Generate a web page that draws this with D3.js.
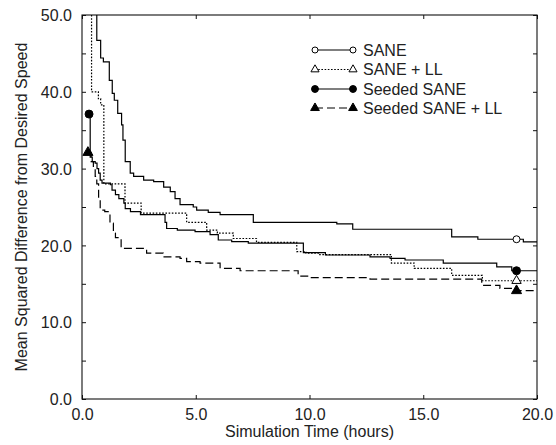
<!DOCTYPE html>
<html>
<head>
<meta charset="utf-8">
<script src="https://cdn.jsdelivr.net/npm/d3@7"></script>
<style>
  html, body { margin: 0; padding: 0; background: #fff; }
  svg { display: block; }
  text { font-family: "Liberation Sans", Arial, Helvetica, sans-serif; fill: #222; }
</style>
</head>
<body>
<svg id="chart" width="556" height="445"></svg>
<script>
// ---- data (hours, mean squared difference) — step functions ----
const saneData = [
  [0.65, 55], [0.65, 46.7], [0.82, 44.4], [0.94, 43.9], [1.20, 41.5], [1.33, 39.8],
  [1.42, 38.9], [1.57, 37.2], [1.74, 35.7], [1.80, 33.7], [1.90, 30.9], [2.12, 29.4],
  [2.27, 29.0], [2.71, 28.5], [3.15, 28.3], [3.59, 27.6], [3.88, 27.0], [4.09, 26.1],
  [4.31, 25.3], [4.89, 25.0], [5.04, 24.6], [5.55, 24.3], [6.07, 24.0], [7.53, 23.0],
  [11.2, 22.8], [11.9, 22.1], [16.25, 21.1], [17.4, 20.8], [19.4, 20.45], [20.0, 20.45]
];
const saneLLData = [
  [0.42, 55], [0.42, 40.0], [0.72, 39.1], [0.82, 38.3], [0.96, 28.0], [1.89, 25.5],
  [2.60, 24.2], [4.60, 23.0], [5.48, 22.0], [5.95, 21.6], [6.65, 20.9], [7.67, 20.4],
  [9.44, 19.2], [9.85, 19.0], [10.4, 18.8], [13.6, 17.7], [14.6, 17.0], [16.25, 16.1],
  [17.6, 15.4], [20.0, 15.4]
];
const seededData = [
  [0.31, 37.1], [0.36, 31.5], [0.45, 30.9], [0.58, 30.7], [0.66, 30.0], [0.73, 29.4],
  [0.80, 28.5], [0.88, 28.1], [1.25, 27.9], [1.32, 27.2], [1.47, 26.6], [1.62, 26.1],
  [1.84, 25.5], [1.90, 24.8], [2.13, 24.4], [2.57, 24.0], [3.65, 23.0], [3.72, 22.2],
  [4.19, 22.0], [4.97, 21.8], [5.63, 21.4], [5.99, 20.7], [6.58, 20.5], [7.31, 20.3],
  [9.73, 19.05], [10.7, 18.75], [12.66, 18.5], [13.54, 18.3], [14.2, 18.1], [15.88, 17.7],
  [18.23, 17.2], [18.89, 16.7], [20.0, 16.7]
];
const seededLLData = [
  [0.26, 32.1], [0.40, 30.9], [0.50, 30.0], [0.58, 29.0], [0.65, 28.0], [0.73, 26.0],
  [0.80, 24.6], [1.00, 24.4], [1.23, 22.9], [1.38, 21.6], [1.47, 21.0], [1.72, 19.6],
  [2.84, 19.0], [3.57, 18.5], [4.31, 18.3], [4.60, 17.9], [5.19, 17.7], [6.07, 17.0],
  [6.95, 16.7], [9.50, 16.0], [10.0, 15.8], [12.66, 15.6], [17.57, 14.8], [18.37, 14.4],
  [18.96, 14.1], [20.0, 14.1]
];
// marker positions drawn on each curve
const saneMarkers = [[19.1, 20.8]];
const saneLLMarkers = [[19.1, 15.4]];
const seededMarkers = [[0.31, 37.1], [19.1, 16.7]];
const seededLLMarkers = [[0.26, 32.1], [19.1, 14.1]];

const seriesNames = ["SANE", "SANE + LL", "Seeded SANE", "Seeded SANE + LL"];
const xTicks = [0, 5, 10, 15, 20];
const yTicks = [0, 10, 20, 30, 40, 50];
const yMinorTicks = [0, 5, 10, 15, 20, 25, 30, 35, 40, 45, 50];
const xLabel = "Simulation Time (hours)";
const yLabel = "Mean Squared Difference from Desired Speed";

// ---- layout ----
const L = 82, R = 537, T = 15, B = 399;
const svg = d3.select("#chart");
const x = d3.scaleLinear().domain([0, 20]).range([L, R]);
const y = d3.scaleLinear().domain([0, 50]).range([B, T]);

svg.append("defs").append("clipPath").attr("id", "plotclip")
  .append("rect").attr("x", L).attr("y", T).attr("width", R - L).attr("height", B - T);

const tickLen = 4;
const fmt = d3.format(".1f");
// bottom axis with labels, ticks inward
const gx = svg.append("g").attr("transform", `translate(0,${B})`)
  .call(d3.axisBottom(x).tickValues(xTicks).tickFormat(fmt).tickSize(-tickLen).tickPadding(10));
// left axis with labels (major) and minor ticks inward
const gy = svg.append("g").attr("transform", `translate(${L},0)`)
  .call(d3.axisLeft(y).tickValues(yMinorTicks).tickFormat(d => yTicks.includes(d) ? fmt(d) : "").tickSize(-tickLen).tickPadding(10));
// top / right ticks (no labels)
const gt = svg.append("g").attr("transform", `translate(0,${T})`)
  .call(d3.axisTop(x).tickValues(xTicks).tickFormat("").tickSize(-tickLen));
const gr = svg.append("g").attr("transform", `translate(${R},0)`)
  .call(d3.axisRight(y).tickValues(yMinorTicks).tickFormat("").tickSize(-tickLen));

[gx, gy, gt, gr].forEach(g => {
  g.select(".domain").remove();
  g.selectAll(".tick line").attr("stroke", "#111").attr("stroke-width", 1);
  g.selectAll(".tick text").style("font-size", "16px").attr("fill", "#222")
    .style("font-family", '"Liberation Sans", Arial, sans-serif');
});
gy.selectAll(".tick text").attr("dy", "0.36em");
gx.selectAll(".tick text").attr("dy", "0.71em");

// frame
svg.append("rect").attr("x", L).attr("y", T).attr("width", R - L).attr("height", B - T)
  .attr("fill", "none").attr("stroke", "#111").attr("stroke-width", 1.1);

// axis titles
svg.append("text").attr("x", (L + R) / 2).attr("y", 437).attr("text-anchor", "middle")
  .style("font-size", "16px").text(xLabel);
svg.append("text").attr("transform", `translate(27,${(T + B) / 2}) rotate(-90)`)
  .attr("text-anchor", "middle").style("font-size", "16px").text(yLabel);

// ---- series ----
const line = d3.line().x(d => x(d[0])).y(d => y(d[1])).curve(d3.curveStepAfter);
const styles = [
  { data: saneData, markers: saneMarkers, dash: null, sym: d3.symbolCircle, fill: "#fff", size: 38 },
  { data: saneLLData, markers: saneLLMarkers, dash: "1.6,1.6", sym: d3.symbolTriangle, fill: "#fff", size: 38 },
  { data: seededData, markers: seededMarkers, dash: null, sym: d3.symbolCircle, fill: "#000", size: 50 },
  { data: seededLLData, markers: seededLLMarkers, dash: "8,4", sym: d3.symbolTriangle, fill: "#000", size: 44 }
];
const plot = svg.append("g").attr("clip-path", "url(#plotclip)");
styles.forEach(s => {
  plot.append("path").attr("d", line(s.data)).attr("fill", "none")
    .attr("stroke", "#000").attr("stroke-width", 1.2)
    .attr("stroke-dasharray", s.dash);
});
styles.forEach(s => {
  svg.selectAll(null).data(s.markers).enter().append("path")
    .attr("d", d3.symbol().type(s.sym).size(s.size))
    .attr("transform", d => `translate(${x(d[0])},${y(d[1])})`)
    .attr("fill", s.fill).attr("stroke", "#000").attr("stroke-width", 1);
});

// ---- legend ----
const legY = [50, 69.5, 89, 108];
const lx1 = 315, lx2 = 353, ltx = 363;
styles.forEach((s, i) => {
  const g = svg.append("g").attr("transform", `translate(0,${legY[i]})`);
  g.append("line").attr("x1", lx1).attr("x2", lx2).attr("y1", 0).attr("y2", 0)
    .attr("stroke", "#000").attr("stroke-width", 1.2).attr("stroke-dasharray", s.dash);
  [lx1, lx2].forEach(px => {
    g.append("path").attr("d", d3.symbol().type(s.sym).size(s.size * 0.75))
      .attr("transform", `translate(${px},0)`)
      .attr("fill", s.fill).attr("stroke", "#000").attr("stroke-width", 1);
  });
  g.append("text").attr("x", ltx).attr("y", 0).attr("dy", "0.36em")
    .style("font-size", "16px").text(seriesNames[i]);
});
</script>
</body>
</html>
